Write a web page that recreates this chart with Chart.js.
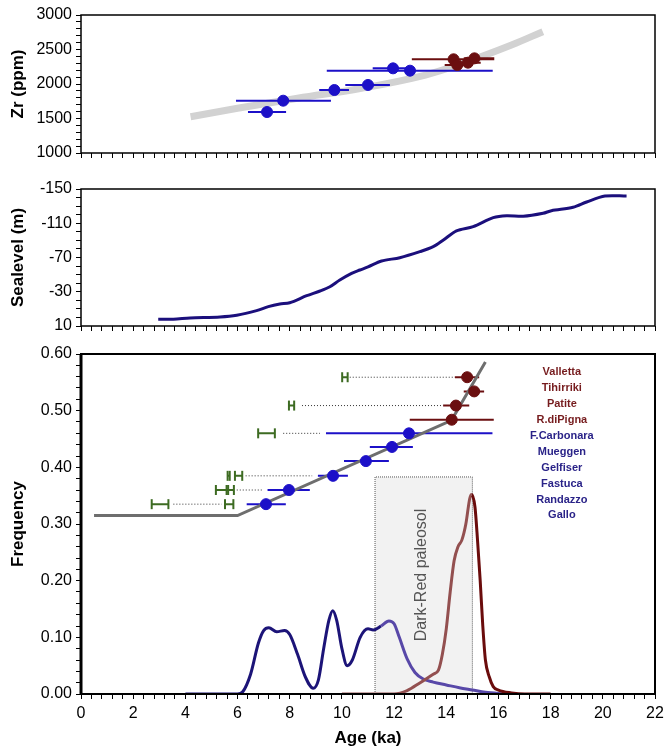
<!DOCTYPE html>
<html>
<head>
<meta charset="utf-8">
<script src="https://cdn.jsdelivr.net/npm/chart.js@4/dist/chart.umd.min.js"></script>
<style>
  html, body { margin: 0; background: #fff; overflow: hidden; width: 664px; height: 750px; }
  .panel { position: absolute; left: 0; }
</style>
</head>
<body>
<div class="panel" style="top:0"><canvas id="zr" width="664" height="170"></canvas></div>
<div class="panel" style="top:170px"><canvas id="sea" width="664" height="170"></canvas></div>
<div class="panel" style="top:340px"><canvas id="freq" width="680" height="410"></canvas></div>
<script>
// --- Zr panel ---
const zrTrendAge = [4.2, 6.0, 8.3, 10.75, 13.2, 14.8, 16.5, 17.7];
const zrTrend = [1526, 1648, 1793, 1938, 2130, 2323, 2565, 2758];
const zrBlueAge = [7.13, 7.75, 9.71, 11.0, 11.96, 12.61];
const zrBlueLo = [6.4, 5.94, 9.13, 10.13, 11.18, 9.42];
const zrBlueHi = [7.86, 9.58, 10.27, 11.84, 12.55, 15.78];
const zrBlue = [1594, 1758, 1913, 1986, 2227, 2193];
const zrRedAge = [14.28, 14.42, 14.83, 15.08];
const zrRedLo = [12.68, 13.94, 14.59, 14.67];
const zrRedHi = [15.84, 14.67, 15.32, 15.84];
const zrRed = [2358, 2275, 2309, 2372];

// --- Sealevel panel ---
const seaAge = [2.96, 3.54, 4.18, 5.33, 5.97, 6.73, 7.18, 7.62, 8.0, 8.65, 9.16, 9.54, 9.92, 10.37, 10.69,
  11.0, 11.52, 12.22, 12.99, 13.5, 13.89, 14.39, 15.03, 15.8, 16.31, 16.95, 17.71, 18.03, 18.86, 19.38, 20.08, 20.91];
const seaLevel = [2, 2, 0.6, -0.5, -2.5, -7.9, -12.6, -15.7, -17.2, -25.4, -30.9, -35.9, -43.7, -51.5, -55.4,
  -59, -65.9, -69.8, -76.8, -82.6, -90.4, -101, -106, -116.5, -118.8, -118.1, -121.6, -124.7, -128.6, -134.8, -141.8, -141.8];

// --- Frequency panel ---
const trendAge = [0.5, 6.0, 14.2, 15.5];
const trendFreq = [0.315, 0.315, 0.483, 0.586];
const freqBlueAge = [7.09, 7.97, 9.66, 10.92, 11.92, 12.57];
const freqBlueLo = [6.35, 7.15, 9.08, 10.08, 11.07, 9.39];
const freqBlueHi = [7.85, 8.77, 10.23, 11.8, 12.72, 15.77];
const freqBlue = [0.335, 0.36, 0.385, 0.411, 0.436, 0.46];
const freqRedAge = [14.21, 14.37, 15.07, 14.8];
const freqRedLo = [12.6, 13.88, 14.67, 14.33];
const freqRedHi = [15.82, 14.88, 15.45, 15.26];
const freqRed = [0.484, 0.509, 0.534, 0.559];
const greenLo = [10.01, 7.97, 6.79, 5.62, 5.9, 5.17, 5.58, 2.71, 5.52];
const greenHi = [10.22, 8.17, 7.43, 5.7, 6.18, 5.64, 5.86, 3.35, 5.84];
const greenFreq = [0.559, 0.509, 0.46, 0.385, 0.385, 0.36, 0.36, 0.335, 0.335];
const dotFrom = [10.3, 8.47, 7.75, 6.31, 5.97, 3.54];
const dotTo = [14.33, 13.88, 9.16, 8.86, 6.99, 5.39];
const dotFreq = [0.559, 0.509, 0.46, 0.385, 0.36, 0.335];
const blueDensAge = [4.0, 6.0, 6.2, 6.5, 6.8, 7.0, 7.2, 7.5, 7.8, 8.0, 8.3, 8.6, 8.9, 9.1, 9.3, 9.5, 9.65, 9.8,
  10.0, 10.2, 10.4, 10.7, 11.0, 11.2, 11.5, 11.8, 12.0, 12.2, 12.5, 12.8, 13.1, 13.5, 14.0, 14.5, 15.0, 15.5, 16.0, 16.5];
const blueDens = [0, 0, 0.004, 0.035, 0.09, 0.112, 0.117, 0.11, 0.112, 0.105, 0.07, 0.03, 0.01, 0.025, 0.08, 0.13, 0.147, 0.13,
  0.08, 0.05, 0.06, 0.1, 0.115, 0.113, 0.12, 0.129, 0.124, 0.1, 0.062, 0.038, 0.027, 0.021, 0.016, 0.011, 0.007, 0.003, 0.001, 0];
const redDensAge = [10.0, 12.0, 12.5, 13.0, 13.5, 13.7, 13.85, 14.0, 14.15, 14.3, 14.45, 14.6, 14.75, 14.9, 14.97,
  15.1, 15.2, 15.3, 15.4, 15.5, 15.65, 15.8, 16.0, 16.5, 17.0, 18.0];
const redDens = [0, 0, 0.006, 0.02, 0.035, 0.042, 0.07, 0.115, 0.18, 0.235, 0.26, 0.272, 0.3, 0.345, 0.352,
  0.33, 0.27, 0.2, 0.12, 0.06, 0.03, 0.013, 0.007, 0.002, 0, 0];
const paleosolAge = [11.27, 15.0];
const paleosolTop = 0.383;
const sites = ['Valletta', 'Tihirriki', 'Patite', 'R.diPigna', 'F.Carbonara', 'Mueggen', 'Gelfiser', 'Fastuca', 'Randazzo', 'Gallo'];

const BLUE = '#1c10c8';
const RED = '#6b0f10';
const GREEN = '#3d6b22';

Chart.defaults.font.family = '"Liberation Sans", Arial, sans-serif';
Chart.defaults.color = '#000';
Chart.defaults.animation = false;
Chart.defaults.plugins.legend.display = false;
Chart.defaults.plugins.tooltip.enabled = false;

const pts = (xs, ys) => xs.map((x, i) => ({ x: x, y: ys[i] }));
// horizontal segments separated by gaps
const bars = (lo, hi, ys) => lo.flatMap((l, i) => [{ x: l, y: ys[i] }, { x: hi[i], y: ys[i] }, { x: hi[i], y: null }]);

const frame = {
  id: 'frame',
  afterDraw(chart, args, opts) {
    const { ctx, chartArea: a } = chart;
    ctx.save();
    ctx.strokeStyle = '#000';
    ctx.lineWidth = opts.width || 1.5;
    ctx.strokeRect(a.left, a.top, a.width, a.height);
    if (opts.left) {
      ctx.lineWidth = opts.left;
      ctx.beginPath();
      ctx.moveTo(a.left, a.top);
      ctx.lineTo(a.left, a.bottom);
      ctx.stroke();
    }
    ctx.restore();
  }
};

function xAxis(height, labels) {
  return {
    type: 'linear', min: 0, max: 22,
    afterFit: s => { s.height = height; },
    border: { display: false },
    grid: { drawOnChartArea: false, tickLength: 5, color: '#000' },
    title: { display: labels, text: 'Age (ka)', font: { size: 17, weight: 'bold' }, padding: { top: 0, bottom: 1 } },
    ticks: {
      display: labels, stepSize: 0.4, autoSkip: false, maxRotation: 0, padding: 5, font: { size: 16 },
      callback: v => Math.abs(v / 2 - Math.round(v / 2)) < 1e-6 ? String(Math.round(v)) : ''
    }
  };
}

function yAxis(title, min, max, step, isMajor, fmt, reverse) {
  return {
    type: 'linear', min: min, max: max, reverse: !!reverse,
    afterFit: s => { s.width = 81; },
    border: { display: false },
    grid: { drawOnChartArea: false, tickLength: 5, color: '#000' },
    title: { display: true, text: title, font: { size: 17, weight: 'bold' }, padding: { top: 8 } },
    ticks: {
      stepSize: step, autoSkip: false, padding: 4, font: { size: 16 },
      callback: v => isMajor(v) ? fmt(v) : ''
    }
  };
}

const lineDs = (data, color, width, extra) => Object.assign({
  data: data, showLine: true, borderColor: color, borderWidth: width, pointRadius: 0, spanGaps: false
}, extra || {});

// Zr chart
new Chart(document.getElementById('zr'), {
  type: 'scatter',
  data: {
    datasets: [
      { data: pts(zrRedAge, zrRed), backgroundColor: RED, borderColor: RED, pointRadius: 5.5 },
      { data: pts(zrBlueAge, zrBlue), backgroundColor: BLUE, borderColor: BLUE, pointRadius: 5.5 },
      lineDs(bars(zrRedLo, zrRedHi, zrRed), RED, 2),
      lineDs(bars(zrBlueLo, zrBlueHi, zrBlue), BLUE, 2),
      lineDs(pts(zrTrendAge, zrTrend), '#d2d2d2', 7, { tension: 0.4 })
    ]
  },
  options: {
    responsive: false,
    layout: { padding: { top: 15, right: 9, left: 0, bottom: 0 } },
    plugins: { frame: { width: 1.5 } },
    scales: {
      x: xAxis(17, false),
      y: yAxis('Zr (ppm)', 1000, 3000, 100, v => v % 500 === 0, v => String(v))
    }
  },
  plugins: [frame]
});

// Sealevel chart
new Chart(document.getElementById('sea'), {
  type: 'scatter',
  data: {
    datasets: [
      lineDs(pts(seaAge, seaLevel), '#1b0f7c', 3, { tension: 0.3 })
    ]
  },
  options: {
    responsive: false,
    layout: { padding: { top: 19, right: 9, left: 0, bottom: 0 } },
    plugins: { frame: { width: 1.5 } },
    scales: {
      x: xAxis(14, false),
      y: yAxis('Sealevel (m)', -150, 10, 10, v => (v - 10) % 40 === 0, v => String(v), true)
    }
  },
  plugins: [frame]
});

// labels and paleosol text on the frequency panel
const annotate = {
  id: 'annotate',
  afterDatasetsDraw(chart) {
    const { ctx, scales: { x, y } } = chart;
    ctx.save();
    ctx.font = 'bold 11px "Liberation Sans", Arial, sans-serif';
    ctx.textAlign = 'center';
    ctx.textBaseline = 'middle';
    sites.forEach((s, i) => {
      ctx.fillStyle = i < 4 ? '#761c1e' : '#2a2388';
      ctx.fillText(s, x.getPixelForValue(18.43), y.getPixelForValue(0.568 - i * 0.0281));
    });
    ctx.translate(x.getPixelForValue(13.07), y.getPixelForValue(0.21));
    ctx.rotate(-Math.PI / 2);
    ctx.font = '16px "Liberation Sans", Arial, sans-serif';
    ctx.fillStyle = '#555';
    ctx.fillText('Dark-Red paleosol', 0, 0);
    ctx.restore();
  }
};

new Chart(document.getElementById('freq'), {
  type: 'scatter',
  data: {
    datasets: [
      { data: pts(freqRedAge, freqRed), backgroundColor: RED, borderColor: RED, pointRadius: 5.5 },
      { data: pts(freqBlueAge, freqBlue), backgroundColor: BLUE, borderColor: BLUE, pointRadius: 5.5 },
      lineDs(pts(trendAge, trendFreq), '#6e6e6e', 3),
      lineDs(bars(freqRedLo, freqRedHi, freqRed), RED, 2),
      lineDs(bars(freqBlueLo, freqBlueHi, freqBlue), BLUE, 2),
      lineDs(bars(greenLo, greenHi, greenFreq), GREEN, 2, {
        pointRadius: 5, pointStyle: 'line', rotation: 90, pointBorderColor: GREEN, pointBorderWidth: 2
      }),
      lineDs(bars(dotFrom, dotTo, dotFreq), '#333', 1, { borderDash: [1, 2] }),
      lineDs(pts(redDensAge, redDens), '#8a3c3c', 3, {
        cubicInterpolationMode: 'monotone',
        segment: { borderColor: c => c.p0.parsed.x >= 14.95 ? '#6a0c0c' : '#935050' }
      }),
      lineDs(pts(blueDensAge, blueDens), '#1c1478', 3, {
        cubicInterpolationMode: 'monotone',
        segment: { borderColor: c => c.p0.parsed.x >= 11.5 ? '#5848a8' : '#1c1478' }
      }),
      lineDs(pts([paleosolAge[0], paleosolAge[0], paleosolAge[1], paleosolAge[1]], [0, paleosolTop, paleosolTop, 0]),
        '#555', 1, { borderDash: [1, 1], fill: 'origin', backgroundColor: 'rgba(0,0,0,0.05)' })
    ]
  },
  options: {
    responsive: false,
    layout: { padding: { top: 14, right: 25, left: 0, bottom: 0 } },
    plugins: { frame: { width: 2, left: 3 } },
    scales: {
      x: xAxis(56, true),
      y: yAxis('Frequency', 0, 0.6, 0.02, v => Math.abs(v * 10 - Math.round(v * 10)) < 1e-6, v => v.toFixed(2))
    }
  },
  plugins: [frame, annotate]
});
</script>
</body>
</html>
